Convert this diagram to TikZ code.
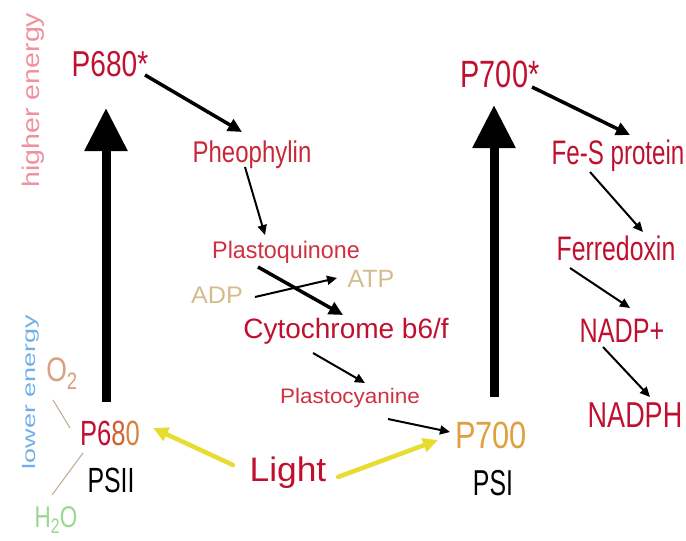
\documentclass[tikz,border=0pt]{standalone}
\usepackage{fontspec}
\setmainfont{Liberation Sans}
\usetikzlibrary{arrows.meta}
\definecolor{redA}{HTML}{C01030}
\definecolor{redB}{HTML}{C82838}
\definecolor{redC}{HTML}{D03040}
\definecolor{tanC}{HTML}{D4BC8C}
\definecolor{orgC}{HTML}{E0A040}
\definecolor{orgD}{HTML}{D06030}
\definecolor{orgE}{HTML}{D88040}
\definecolor{oxyC}{HTML}{D8A080}
\definecolor{watC}{HTML}{98D890}
\definecolor{hiC}{HTML}{F090A0}
\definecolor{loC}{HTML}{70B0E8}
\definecolor{ylwC}{HTML}{E8DC30}
\definecolor{lnC}{HTML}{C0A890}
\newcommand\lbl[3]{\scalebox{#2}[1]{\fontsize{#1}{#1}\selectfont #3}}
\begin{document}
\begin{tikzpicture}[x=1pt,y=-1pt,
  txt/.style={inner sep=0pt, anchor=base},
  arr/.style={line width=2pt, -{Triangle[length=10pt,width=9pt]}},
  tarr/.style={line width=3.5pt, -{Triangle[length=14pt,width=13pt]}},
  bigarr/.style={line width=9pt, -{Triangle[length=43pt,width=41pt]}},
  yarr/.style={draw=ylwC, line width=4.5pt, line cap=round, -{Triangle[length=15pt,width=14pt]}},
  thinln/.style={draw=lnC, line width=1pt}]
\useasboundingbox (0,0) rectangle (686,541);
% labels
\node[inner sep=0pt, rotate=90, text=hiC] (hi) at (33,100) {\lbl{24}{1.19}{higher energy}};
\node[inner sep=0pt, rotate=90, text=loC] (lo) at (31,392) {\lbl{18}{1.5}{lower energy}};
% nodes
\node[txt, text=redA] (P680s) at (110,76) {\lbl{36}{0.78}{P680*}};
\node[txt, text=redB] (Pheo) at (252,162) {\lbl{30}{0.8}{Pheophylin}};
\node[txt, text=redC] (PQ) at (286,258) {\lbl{24}{0.97}{Plastoquinone}};
\node[txt, text=tanC] (ADP) at (217,303) {\lbl{24}{1.05}{ADP}};
\node[txt, text=tanC] (ATP) at (371,287) {\lbl{25}{1.0}{ATP}};
\node[txt, text=redA] (Cyt) at (346,338) {\lbl{28}{1.0}{Cytochrome b6/f}};
\node[txt, text=redC] (PC) at (350,403) {\lbl{21}{1.07}{Plastocyanine}};
\node[txt, text=redA] (Light) at (288,481) {\lbl{34}{1.04}{Light}};
\node[txt] (P680) at (110,445) {\lbl{35}{0.73}{\textcolor{redA}{P6}\textcolor{orgD}{8}\textcolor{orgE}{0}}};
\node[txt] (PSII) at (111,492) {\lbl{35}{0.71}{PSII}};
\node[txt, text=oxyC] (O2) at (62,381) {\lbl{34}{0.78}{O\textsubscript{2}}};
\node[txt, text=watC] (H2O) at (56,527) {\lbl{30}{0.75}{H\textsubscript{2}O}};
\node[txt, text=redA] (P700s) at (500,87) {\lbl{38}{0.76}{P700*}};
\node[txt, text=redA] (FeS) at (618,164) {\lbl{34}{0.71}{Fe-S protein}};
\node[txt, text=redA] (Fd) at (616,260) {\lbl{34}{0.73}{Ferredoxin}};
\node[txt, text=redA] (NADPp) at (622,342) {\lbl{34}{0.74}{NADP+}};
\node[txt, text=redA] (NADPH) at (635,427) {\lbl{36}{0.75}{NADPH}};
\node[txt, text=orgC] (P700) at (491,448) {\lbl{38}{0.81}{P700}};
\node[txt] (PSI) at (493,495) {\lbl{36}{0.69}{PSI}};
% big arrows
\draw[bigarr] ([shift={(-4,-43)}]P680.base) -- ([shift={(-4,32)}]P680s.base);
\draw[bigarr] ([shift={(3,-51)}]P700.base) -- ([shift={(-6,18)}]P700s.base);
% chain
\draw[tarr] ([shift={(35,-1)}]P680s.base) -- ([shift={(-10,-30)}]Pheo.base);
\draw[arr] ([shift={(-7,5)}]Pheo.base) -- ([shift={(-21,-23)}]PQ.base);
\draw[tarr] ([shift={(-28,9)}]PQ.base) -- ([shift={(-3,-23)}]Cyt.base);
\draw[arr] ([shift={(38,-6)}]ADP.base) -- ([shift={(-34,-9)}]ATP.base);
\draw[arr] ([shift={(-33,15)}]Cyt.base) -- ([shift={(15,-20)}]PC.base);
\draw[arr] ([shift={(38,16)}]PC.base) -- ([shift={(-41,-16)}]P700.base);
\draw[tarr] ([shift={(32,0)}]P700s.base) -- ([shift={(12,-29)}]FeS.base);
\draw[arr] ([shift={(-28,8)}]FeS.base) -- ([shift={(27,-28)}]Fd.base);
\draw[arr] ([shift={(-46,8)}]Fd.base) -- ([shift={(8,-34)}]NADPp.base);
\draw[arr] ([shift={(-19,5)}]NADPp.base) -- ([shift={(15,-30)}]NADPH.base);
% light
\draw[yarr] ([shift={(-55,-16)}]Light.base) -- ([shift={(43,-17)}]P680.base);
\draw[yarr] ([shift={(50,-4)}]Light.base) -- ([shift={(-53,-8)}]P700.base);
% water / oxygen
\draw[thinln] ([shift={(-40,-17)}]P680.base) -- ([shift={(-9,19)}]O2.base);
\draw[thinln] ([shift={(-4,-32)}]H2O.base) -- ([shift={(-27,8)}]P680.base);
\end{tikzpicture}
\end{document}
